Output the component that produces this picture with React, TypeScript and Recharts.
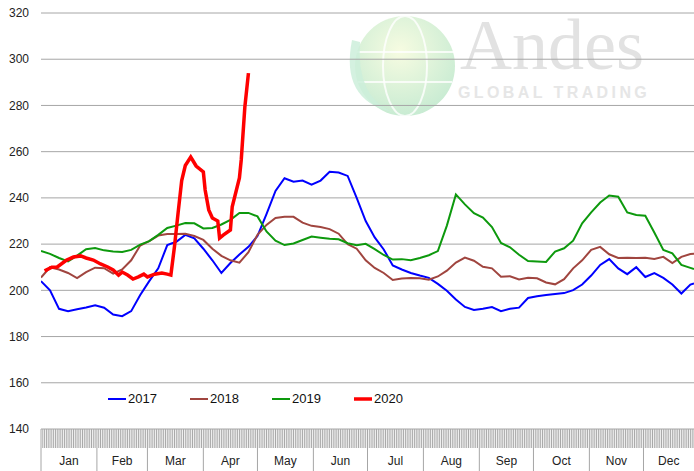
import { CartesianGrid, Legend, Line, LineChart, XAxis, YAxis } from 'recharts';

// day of year for the 2017-2019 series (sampled every 5 days)
const days = [
  0, 5, 10, 15, 20, 25, 30, 35, 40, 45, 50, 55, 60, 65, 70, 75, 80, 85, 90, 95,
  100, 105, 110, 115, 120, 125, 130, 135, 140, 145, 150, 155, 160, 165, 170, 175, 180, 185, 190, 195,
  200, 205, 210, 215, 220, 225, 230, 235, 240, 245, 250, 255, 260, 265, 270, 275, 280, 285, 290, 295,
  300, 305, 310, 315, 320, 325, 330, 335, 340, 345, 350, 355, 360, 362,
];

const values2017 = [
  204, 200, 192, 191, 191.8, 192.6, 193.5, 192.5, 189.5, 188.8,
  191, 198, 204, 209.5, 219.6, 221, 224, 222.5, 218, 213,
  207.5, 211.8, 215.5, 218.8, 223.5, 233, 243, 248.5, 247, 247.5,
  245.7, 247.5, 251.3, 251, 249.5, 240, 230, 222.9, 217.7, 210.8,
  209, 207.5, 206.4, 205.4, 202.8, 199.8, 196, 192.8, 191.5, 192,
  192.8, 191, 192, 192.5, 196.7, 197.4, 198, 198.4, 198.8, 200.1,
  202.5, 206.4, 211, 213.5, 209.5, 207, 210, 205.8, 207.5, 205.4,
  202.5, 198.6, 202.5, 203,
];

const values2018 = [
  205.5, 210, 209, 207.5, 205.3, 207.9, 209.8, 209.6, 207.2, 209,
  213, 219.4, 221.3, 223.7, 224.4, 224.4, 224.5, 223.5, 221.8, 218,
  214.9, 213, 212, 216.5, 224, 228.3, 231.3, 231.8, 231.8, 229.3,
  227.9, 227.4, 226.5, 224.5, 220, 218, 213, 209.7, 207.5, 204.5,
  205.1, 205.3, 205.2, 204.6, 206, 208.5, 212, 214.2, 212.8, 210.2,
  209.5, 205.9, 206.1, 204.7, 205.4, 205.2, 203.4, 202.6, 204.8, 209.5,
  213, 217.5, 218.8, 215.6, 214, 214.1, 214, 214.1, 213.6, 214.5,
  211.8, 214.5, 215.7, 215.8,
];

const values2019 = [
  217, 215.8, 214, 212.5, 215, 217.8, 218.3, 217.3, 216.8, 216.6,
  217.5, 219.8, 221.3, 224, 227, 228, 229.1, 229, 226.8, 227,
  228.5, 230.5, 233.5, 233.5, 232, 225.5, 221.5, 219.6, 220.3, 221.8,
  223.3, 222.8, 222.3, 222.1, 220.4, 219.5, 220.1, 217.8, 215.3, 213.3,
  213.5, 213, 214, 215.2, 217, 228, 241.5, 237.2, 233.4, 231.5,
  227.4, 220.5, 218.6, 215.4, 212.7, 212.5, 212.3, 216.8, 218.2, 221.5,
  229, 233.7, 238, 241, 240.5, 233.7, 232.6, 232.3, 225, 217.5,
  216, 211, 209.7, 209.2,
];

// 2020 only runs to mid April
const days2020 = [
  2, 6, 9, 14, 18, 22, 25, 29, 33, 37, 40, 43, 45, 48, 51, 54, 57, 59, 63, 67,
  70, 72, 74, 76, 78, 80, 83, 84, 86, 90, 91, 93, 95, 98, 99, 101, 105, 106, 110, 111,
  113, 115,
];
const values2020 = [
  208.4, 210, 210.1, 213, 214.4, 214.9, 214, 213.1, 211.4, 210.1, 208.8, 206.6, 207.9, 206.6, 204.9, 205.8, 207, 205.8, 207, 207.5,
  207, 206.6, 219, 233.5, 247.5, 254, 257.7, 256.4, 253.8, 251.2, 243.4, 234.8, 231.3, 230, 222.6, 223.9, 226.1, 236.1, 248.6, 256.4,
  279.3, 294,
];

const months = ['Jan', 'Feb', 'Mar', 'Apr', 'May', 'Jun', 'Jul', 'Aug', 'Sep', 'Oct', 'Nov', 'Dec'];
const monthStarts = [0, 31, 59, 90, 120, 151, 181, 212, 243, 273, 304, 334];
const yearEnd = 362;
const yTicks = [140, 160, 180, 200, 220, 240, 260, 280, 300, 320];

const FONT = '"Liberation Sans", Arial, sans-serif';
const BLUE = '#0000ff';
const BROWN = '#a0453f';
const GREEN = '#0d990d';
const RED = '#ff0000';

const table = days.map((day, i) => ({
  day,
  y2017: values2017[i],
  y2018: values2018[i],
  y2019: values2019[i],
}));
const table2020 = days2020.map((day, i) => ({ day, y2020: values2020[i] }));

// one tick per day for the striped band, plus month mid points for the labels
const monthMids = monthStarts.map((s, i) => (s + (monthStarts[i + 1] ?? yearEnd)) / 2);
const dayTicks = Array.from({ length: yearEnd + 1 }, (_, i) => i);
const xTicks = Array.from(new Set([...dayTicks, ...monthMids])).sort((a, b) => a - b);

const legendItems = [
  { name: '2017', color: BLUE, width: 2 },
  { name: '2018', color: BROWN, width: 2 },
  { name: '2019', color: GREEN, width: 2 },
  { name: '2020', color: RED, width: 3.5 },
];

function DayTick(props: any) {
  const { x, y, payload } = props;
  const v = payload.value;
  const idx = monthMids.indexOf(v);
  return (
    <g>
      {Number.isInteger(v) && <line x1={x} x2={x} y1={y} y2={y + 19} stroke="#a8a8a8" strokeWidth={1} />}
      {monthStarts.includes(v) && <line x1={x} x2={x} y1={y + 19} y2={y + 42} stroke="#a6a6a6" strokeWidth={1} />}
      {idx >= 0 && (
        <text x={x} y={y + 36} textAnchor="middle" fontSize={12} fontFamily={FONT} fill="#222">
          {months[idx]}
        </text>
      )}
    </g>
  );
}

function LegendContent() {
  return (
    <div style={{ display: 'flex', fontFamily: FONT, fontSize: 13, color: '#111' }}>
      {legendItems.map((it) => (
        <div key={it.name} style={{ width: 82, display: 'flex', alignItems: 'center' }}>
          <svg width={18} height={10}>
            <line x1={0} x2={18} y1={5} y2={5} stroke={it.color} strokeWidth={it.width} />
          </svg>
          <span style={{ marginLeft: 2 }}>{it.name}</span>
        </div>
      ))}
    </div>
  );
}

function Watermark() {
  return (
    <svg width={694} height={471} style={{ position: 'absolute', left: 0, top: 0 }}>
      <defs>
        <radialGradient id="globe" cx="45%" cy="35%" r="65%">
          <stop offset="0%" stopColor="#f5fbdc" />
          <stop offset="100%" stopColor="#bfe8cb" />
        </radialGradient>
      </defs>
      <circle cx={405} cy={66} r={50} fill="url(#globe)" opacity={0.85} />
      <ellipse cx={405} cy={66} rx={22} ry={50} fill="none" stroke="#ffffff" strokeWidth={2} opacity={0.8} />
      <line x1={356} x2={454} y1={52} y2={52} stroke="#ffffff" strokeWidth={2} opacity={0.8} />
      <line x1={358} x2={452} y1={82} y2={82} stroke="#ffffff" strokeWidth={2} opacity={0.8} />
      <path d="M352 40 Q340 100 392 112 Q356 96 360 42 Z" fill="#cdeedb" opacity={0.85} />
      <text x={460} y={69} fontFamily='"Liberation Serif", "DejaVu Serif", serif' fontSize={72} fill="#e2e2e2">
        Andes
      </text>
      <text x={458} y={98} fontFamily={FONT} fontWeight="bold" fontSize={16} letterSpacing={3.4} fill="#e6e6e6">
        GLOBAL TRADING
      </text>
    </svg>
  );
}

export default function App() {
  return (
    <div style={{ position: 'absolute', left: 0, top: 0, width: 694, height: 471, background: '#fff' }}>
      <Watermark />
      <div style={{ position: 'absolute', left: 0, top: 0 }}>
        <LineChart width={694} height={471} margin={{ top: 13, right: 0, bottom: 0, left: 0 }}>
          <CartesianGrid vertical={false} stroke="#a6a6a6" strokeWidth={1} />
          <XAxis
            type="number"
            dataKey="day"
            domain={[0, yearEnd]}
            ticks={xTicks}
            interval={0}
            height={42}
            axisLine={false}
            tickLine={false}
            tickSize={0}
            tickMargin={0}
            tick={DayTick}
            allowDataOverflow
          />
          <YAxis
            width={41}
            domain={[140, 320]}
            ticks={yTicks}
            interval={0}
            axisLine={false}
            tickLine={false}
            tickSize={0}
            tickMargin={12}
            tick={{ fontSize: 12, fontFamily: FONT, fill: '#222' }}
          />
          <Legend
            content={LegendContent}
            layout="horizontal"
            verticalAlign="middle"
            align="center"
            wrapperStyle={{ top: 391, left: 108, width: 340, height: 18 }}
          />
          <Line data={table} dataKey="y2017" name="2017" type="linear" stroke={BLUE} strokeWidth={2} dot={false} activeDot={false} isAnimationActive={false} />
          <Line data={table} dataKey="y2018" name="2018" type="linear" stroke={BROWN} strokeWidth={2} dot={false} activeDot={false} isAnimationActive={false} />
          <Line data={table} dataKey="y2019" name="2019" type="linear" stroke={GREEN} strokeWidth={2} dot={false} activeDot={false} isAnimationActive={false} />
          <Line data={table2020} dataKey="y2020" name="2020" type="linear" stroke={RED} strokeWidth={3.5} dot={false} activeDot={false} isAnimationActive={false} />
        </LineChart>
      </div>
    </div>
  );
}
